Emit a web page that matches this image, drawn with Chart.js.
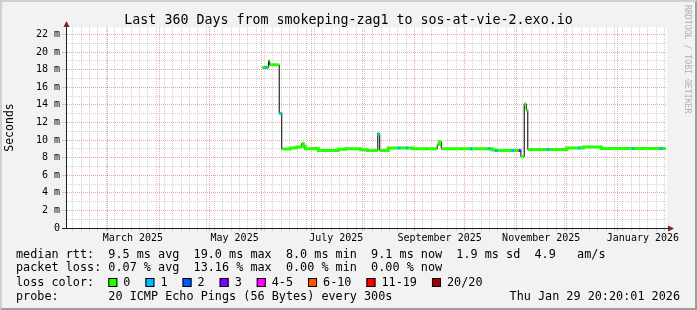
<!DOCTYPE html>
<html><head><meta charset="utf-8">
<script src="https://cdn.jsdelivr.net/npm/chart.js@4.4.1/dist/chart.umd.min.js"></script>
<style>html,body{margin:0;padding:0;background:#f2f2f2;overflow:hidden}</style>
</head><body>
<canvas id="c" width="697" height="310"></canvas>
<script>
// ---------------- data ----------------
const titleText = 'Last 360 Days from smokeping-zag1 to sos-at-vie-2.exo.io';
const yTitle = 'Seconds';
const rangeStart = '2025-02-03T20:20';
const rangeEnd = '2026-01-29T20:20';
const yMax = 22.85;

// median RTT (ms): each entry starts a level that holds until the next date
const medianDates = [
  '2025-06-01T14:00','2025-06-05T10:00','2025-06-06T02:00','2025-06-11T19:00','2025-06-13T07:00',
  '2025-06-18T10:00','2025-06-22T00:00','2025-06-25T07:00','2025-06-26T05:00','2025-06-27T10:00',
  '2025-07-02T05:00','2025-07-05T05:00','2025-07-17T05:00','2025-07-21T10:00','2025-07-30T10:00',
  '2025-08-03T14:00','2025-08-09T22:00','2025-08-11T02:00','2025-08-16T05:00','2025-08-30T14:00',
  '2025-09-14T14:00','2025-09-15T19:00','2025-09-17T00:00','2025-10-17T14:00','2025-10-20T00:00',
  '2025-11-03T19:00','2025-11-05T19:00','2025-11-07T00:00','2025-11-07T22:00','2025-12-01T07:00',
  '2025-12-11T05:00','2025-12-22T00:00','2026-01-29T20:20'
];
const medianRtt = [
  18.25, 19.0, 18.55, 13.0, 8.97,
  9.1, 9.2, 9.6, 9.3, 9.0,
  9.05, 8.8, 8.95, 9.0, 8.9,
  8.8, 10.7, 8.8, 9.1, 9.0,
  9.5, 9.8, 9.0, 8.88, 8.8,
  8.1, 14.1, 13.4, 8.93, 9.1,
  9.2, 9.05, 9.05
];
// samples with 1 lost ping
const loss1Dates = [
  '2025-06-03T17:00','2025-06-13T00:00','2025-08-10T05:00','2025-08-22T19:00','2025-08-27T10:00',
  '2025-10-04T19:00','2025-10-15T19:00','2025-10-20T00:00','2025-10-30T00:00','2025-11-20T05:00',
  '2025-12-08T19:00','2026-01-10T00:00','2026-01-26T19:00'
];
const loss1Rtt = [18.25, 13.0, 10.7, 9.1, 9.1, 9.0, 9.0, 8.8, 8.8, 8.93, 9.1, 9.05, 9.05];
// samples with 3 lost pings
const loss3Dates = ['2025-11-03T05:00'];
const loss3Rtt = [8.8];

// axis grid / labels
const monthStarts = ['2025-03-01','2025-04-01','2025-05-01','2025-06-01','2025-07-01','2025-08-01',
  '2025-09-01','2025-10-01','2025-11-01','2025-12-01','2026-01-01'];
const minorGridFirst = '2025-02-08';
const minorGridDays = 5;
const xLabelDates = ['2025-03-16','2025-05-16','2025-07-16','2025-09-16','2025-11-16','2026-01-16'];
const xLabelTexts = ['March 2025','May 2025','July 2025','September 2025','November 2025','January 2026'];

// legend statistics
const rttStats = ['9.5','19.0','8.0','9.1','1.9','4.9'];
const lossStats = ['0.07','13.16','0.00','0.00'];
const lossClasses = ['0','1','2','3','4-5','6-10','11-19','20/20'];
const lossColors = ['#26ff00','#00b8ff','#0059ff','#7e00ff','#ff00ff','#ff5500','#ff0000','#a10000'];
const probeText = '20 ICMP Echo Pings (56 Bytes) every 300s';
const stampText = 'Thu Jan 29 20:20:01 2026';
const watermark = 'RRDTOOL / TOBI OETIKER';

// ---------------- build ----------------
const ms = s => Date.parse(s.includes('T') ? s + ':00Z' : s + 'T00:00:00Z');
const DAY = 86400000;
const FONT = 'DejaVu Sans Mono';
const MAJOR = 'rgba(222,79,79,0.5)';
const MINOR = 'rgba(143,143,143,0.4)';

const xMin = ms(rangeStart), xMax = ms(rangeEnd);
const kind = new Map();
for (let t = ms(minorGridFirst); t < xMax; t += minorGridDays * DAY) kind.set(t, 'minor');
monthStarts.forEach(d => kind.set(ms(d), 'month'));
const labelMap = new Map();
xLabelDates.forEach((d, i) => { kind.set(ms(d), 'label'); labelMap.set(ms(d), xLabelTexts[i]); });
const xTicks = [...kind.keys()].filter(v => v > xMin && v < xMax).sort((a, b) => a - b);
const yTicks = [];
for (let v = 0; v <= Math.floor(yMax); v++) yTicks.push(v);

const blackPts = medianDates.map((d, i) => ({x: ms(d), y: medianRtt[i]}));
const greenPts = [];
for (let i = 0; i < medianDates.length - 1; i++) {
  const x0 = ms(medianDates[i]), x1 = ms(medianDates[i + 1]), v = medianRtt[i];
  greenPts.push({x: x0, y: v}, {x: x1, y: v});
  if (Math.abs(medianRtt[i + 1] - v) > 0.35) greenPts.push({x: x1, y: null});
}
const loss1Pts = loss1Dates.map((d, i) => ({x: ms(d), y: loss1Rtt[i]}));
const loss3Pts = loss3Dates.map((d, i) => ({x: ms(d), y: loss3Rtt[i]}));

const kindOf = c => (c.tick ? kind.get(c.tick.value) : undefined);

const framePlugin = {
  id: 'frame',
  beforeDraw(chart) {
    const {ctx, chartArea: a, width: W, height: H} = chart;
    ctx.save();
    ctx.fillStyle = '#f2f2f2'; ctx.fillRect(0, 0, W, H);
    ctx.fillStyle = '#cfcfcf';
    ctx.beginPath(); ctx.moveTo(0, 0); ctx.lineTo(W, 0); ctx.lineTo(W - 2, 2); ctx.lineTo(2, 2);
    ctx.lineTo(2, H - 2); ctx.lineTo(0, H); ctx.closePath(); ctx.fill();
    ctx.fillStyle = '#9e9e9e';
    ctx.beginPath(); ctx.moveTo(W, 0); ctx.lineTo(W, H); ctx.lineTo(0, H); ctx.lineTo(2, H - 2);
    ctx.lineTo(W - 2, H - 2); ctx.lineTo(W - 2, 2); ctx.closePath(); ctx.fill();
    ctx.fillStyle = '#ffffff';
    ctx.fillRect(a.left, a.top, a.right - a.left + 1, a.bottom - a.top);
    ctx.restore();
  },
  afterDraw(chart) {
    const {ctx, chartArea: a} = chart;
    ctx.save();
    // axis extensions and arrows
    ctx.strokeStyle = '#1f1f1f'; ctx.lineWidth = 1;
    ctx.beginPath(); ctx.moveTo(a.right, a.bottom + 0.5); ctx.lineTo(a.right + 4, a.bottom + 0.5); ctx.stroke();
    ctx.beginPath(); ctx.moveTo(a.left + 0.5, a.top); ctx.lineTo(a.left + 0.5, a.top - 2); ctx.stroke();
    ctx.fillStyle = '#801f1f';
    ctx.beginPath(); ctx.moveTo(a.left + 0.5, a.top - 6); ctx.lineTo(a.left - 2.5, a.top);
    ctx.lineTo(a.left + 3.5, a.top); ctx.closePath(); ctx.fill();
    ctx.beginPath(); ctx.moveTo(a.right + 8, a.bottom + 0.5); ctx.lineTo(a.right + 2, a.bottom - 2.5);
    ctx.lineTo(a.right + 2, a.bottom + 3.5); ctx.closePath(); ctx.fill();

    // legend
    ctx.font = '11.8px "' + FONT + '"';
    ctx.fillStyle = '#000'; ctx.textBaseline = 'alphabetic'; ctx.textAlign = 'left';
    const cw = ctx.measureText('0').width;
    const L = 16;
    const r1 = 'median rtt:  ' + rttStats[0] + ' ms avg  ' + rttStats[1] + ' ms max  ' + rttStats[2] +
      ' ms min  ' + rttStats[3] + ' ms now  ' + rttStats[4] + ' ms sd  ' + rttStats[5] + '   am/s';
    const r2 = 'packet loss: ' + lossStats[0] + ' % avg  ' + lossStats[1] + ' % max  ' + lossStats[2] +
      ' % min  ' + lossStats[3] + ' % now';
    ctx.fillText(r1, L, 257.8);
    ctx.fillText(r2, L, 271.2);
    ctx.fillText('loss color:', L, 285.8);
    let x = L + 13 * cw;
    lossClasses.forEach((lab, i) => {
      ctx.fillStyle = lossColors[i]; ctx.fillRect(x, 278, 9, 9);
      ctx.strokeStyle = '#000'; ctx.lineWidth = 1; ctx.strokeRect(x + 0.5, 278.5, 8, 8);
      ctx.fillStyle = '#000';
      const lx = x + 15;
      ctx.fillText(lab, lx, 285.8);
      x = lx + ctx.measureText(lab).width + 15;
    });
    ctx.fillText('probe:', L, 299.5);
    ctx.fillText(probeText, L + 13 * cw, 299.5);
    ctx.textAlign = 'right';
    ctx.fillText(stampText, 680, 299.5);

    // watermark
    ctx.font = '8.2px "' + FONT + '"';
    ctx.fillStyle = '#b0b0b0'; ctx.textAlign = 'left'; ctx.textBaseline = 'middle';
    ctx.translate(687, 5); ctx.rotate(Math.PI / 2);
    ctx.fillText(watermark, 0, 0);
    ctx.restore();
  }
};

new Chart(document.getElementById('c'), {
  type: 'line',
  data: {
    datasets: [
      {data: loss1Pts, showLine: false, pointStyle: 'rect', pointRadius: 1.9, pointBorderWidth: 0,
       pointBackgroundColor: lossColors[1], order: 0},
      {data: loss3Pts, showLine: false, pointStyle: 'rect', pointRadius: 1.9, pointBorderWidth: 0,
       pointBackgroundColor: lossColors[3], order: 0},
      {data: greenPts, borderColor: lossColors[0], borderWidth: 3, pointRadius: 0, spanGaps: false,
       borderJoinStyle: 'miter', order: 1},
      {data: blackPts, stepped: true, borderColor: '#000', borderWidth: 1, pointRadius: 0, order: 2}
    ]
  },
  options: {
    responsive: false, animation: false, devicePixelRatio: 1,
    layout: {padding: {left: 0, right: 0, top: 0, bottom: 0}},
    plugins: {
      legend: {display: false}, tooltip: {enabled: false},
      title: {display: true, text: titleText, color: '#000',
              font: {family: FONT, size: 13.3, weight: 'normal', lineHeight: 1},
              padding: {top: 13.45, bottom: 0.25}}
    },
    scales: {
      x: {
        type: 'linear', min: xMin, max: xMax,
        afterBuildTicks: s => { s.ticks = xTicks.map(v => ({value: v})); },
        afterFit: s => { s.height = 82; },
        border: {display: true, color: '#1f1f1f', width: 1, dash: [1, 1]},
        grid: {
          color: c => { const k = kindOf(c); return k === 'month' ? MAJOR : k === 'minor' ? MINOR : 'rgba(0,0,0,0)'; },
          lineWidth: 1, drawTicks: true, tickLength: 3,
          tickColor: c => { const k = kindOf(c); return k === 'month' ? MAJOR : k === 'minor' ? MINOR : 'rgba(0,0,0,0)'; }
        },
        ticks: {autoSkip: false, maxRotation: 0, minRotation: 0, padding: 1, color: '#000',
                font: {family: FONT, size: 10},
                callback: v => labelMap.get(v) || ''}
      },
      y: {
        min: 0, max: yMax,
        afterBuildTicks: s => { s.ticks = yTicks.map(v => ({value: v})); },
        afterFit: s => { s.width = 66; },
        border: {display: true, color: '#1f1f1f', width: 1, dash: [1, 1]},
        grid: {
          color: c => (c.tick && c.tick.value % 2 === 0) ? MAJOR : MINOR,
          lineWidth: 1, drawTicks: true, tickLength: 4,
          tickColor: c => (c.tick && c.tick.value === 0) ? '#1f1f1f' : (c.tick && c.tick.value % 2 === 0 ? MINOR : 'rgba(0,0,0,0)')
        },
        ticks: {autoSkip: false, padding: 2, color: '#000', font: {family: FONT, size: 10},
                callback: v => v % 2 === 0 ? (v === 0 ? '0' : v + ' m') : ''},
        title: {display: true, text: yTitle, color: '#000', font: {family: FONT, size: 11.5},
                padding: {top: 3, bottom: 0}}
      },
      yRight: {
        position: 'right', min: 0, max: yMax, display: true,
        afterFit: s => { s.width = 31; },
        grid: {display: false, drawTicks: false}, border: {display: false},
        ticks: {display: false}
      }
    }
  },
  plugins: [framePlugin]
});
</script>
</body></html>
